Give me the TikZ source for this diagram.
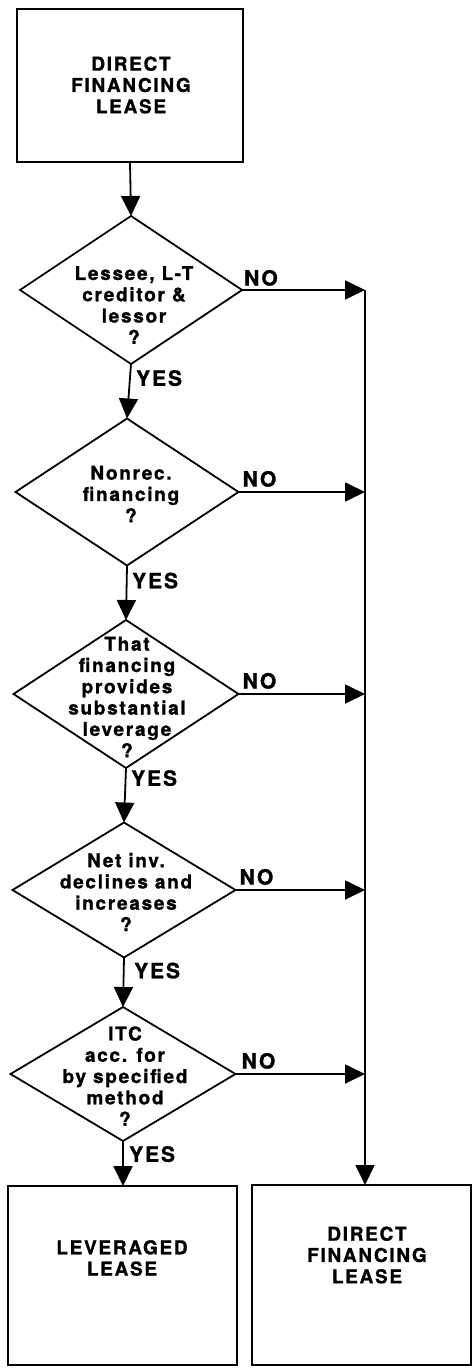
\documentclass[tikz,border=0pt]{standalone}
\usepackage{fontspec}
\setmainfont{TeX Gyre Heros}[LetterSpace=9,BoldFeatures={FakeBold=1.2}]
\usetikzlibrary{shapes.geometric,arrows.meta}
\begin{document}
\begin{tikzpicture}[x=1pt,y=-1pt,
  box/.style={draw,line width=2pt,inner sep=0,outer sep=0},
  dia/.style={draw,shape=diamond,line width=1.8pt,inner sep=0,outer sep=0},
  txt/.style={align=center,inner sep=0,font=\bfseries\fontsize{19}{21.3}\selectfont},
  lab/.style={inner sep=0,font=\bfseries\fontsize{21}{22}\selectfont},
  arr/.style={line width=1.8pt,-{Triangle[length=20pt,width=19pt]}},
  ln/.style={line width=1.8pt}]
\useasboundingbox (0,0) rectangle (472,1372);
% top box
\node[box,minimum width=226pt,minimum height=153pt] (top) at (130,85.5) {};
\node[txt] (toptxt) at (131,85) {DIRECT\\FINANCING\\LEASE};
% diamonds
\node[dia,minimum width=222pt,minimum height=148pt] (d1) at (131,290) {};
\node[txt] (t1) at (134,305) {Lessee, L-T\\creditor \&\\lessor\\?};
\node[dia,minimum width=223pt,minimum height=147pt] (d2) at (127,492) {};
\node[txt] (t2) at (131,494) {Nonrec.\\financing\\?};
\node[dia,minimum width=225pt,minimum height=148pt] (d3) at (126,694) {};
\node[txt] (t3) at (127,697) {That\\financing\\provides\\substantial\\leverage\\?};
\node[dia,minimum width=223pt,minimum height=135pt] (d4) at (124,890) {};
\node[txt] (t4) at (126,892) {Net inv.\\declines and\\increases\\?};
\node[dia,minimum width=225pt,minimum height=134pt] (d5) at (123,1074) {};
\node[txt] (t5) at (125,1076) {ITC\\acc. for\\by specified\\method\\?};
% bottom boxes
\node[box,minimum width=229pt,minimum height=179pt] (lb) at (122.5,1275.5) {};
\node[txt] (lbt) at (122,1258) {LEVERAGED\\LEASE};
\node[box,minimum width=219pt,minimum height=180pt] (rb) at (361.5,1275) {};
\node[txt] (rbt) at (367,1255) {DIRECT\\FINANCING\\LEASE};
% collector coordinates
\coordinate (v1) at (365,290);
\coordinate (v2) at (365,492);
\coordinate (v3) at (365,694);
\coordinate (v4) at (365,890);
\coordinate (v5) at (365,1074);
% YES path
\draw[arr] (top.south) -- (d1.north);
\draw[arr] (d1.south) -- (d2.north);
\draw[arr] (d2.south) -- (d3.north);
\draw[arr] (d3.south) -- (d4.north);
\draw[arr] (d4.south) -- (d5.north);
\draw[arr] (d5.south) -- (d5.south |- lb.north);
% NO path
\draw[arr] (d1.east) -- (v1);
\draw[arr] (d2.east) -- (v2);
\draw[arr] (d3.east) -- (v3);
\draw[arr] (d4.east) -- (v4);
\draw[arr] (d5.east) -- (v5);
\draw[arr] (v1) -- (v1 |- rb.north);
% labels
\node[lab,anchor=south west] (n1) at ([xshift=2pt,yshift=4pt]d1.east) {NO};
\node[lab,anchor=south west] (n2) at ([xshift=4pt,yshift=5pt]d2.east) {NO};
\node[lab,anchor=south west] (n3) at ([xshift=4pt,yshift=5pt]d3.east) {NO};
\node[lab,anchor=south west] (n4) at ([xshift=4pt,yshift=5pt]d4.east) {NO};
\node[lab,anchor=south west] (n5) at ([xshift=6pt,yshift=5pt]d5.east) {NO};
\node[lab,anchor=north west] (y1) at ([xshift=5pt,yshift=-6pt]d1.south) {YES};
\node[lab,anchor=north west] (y2) at ([xshift=5pt,yshift=-7pt]d2.south) {YES};
\node[lab,anchor=north west] (y3) at ([xshift=5pt,yshift=-2pt]d3.south) {YES};
\node[lab,anchor=north west] (y4) at ([xshift=10pt,yshift=-5pt]d4.south) {YES};
\node[lab,anchor=north west] (y5) at ([xshift=6pt,yshift=-5pt]d5.south) {YES};
\end{tikzpicture}
\end{document}
